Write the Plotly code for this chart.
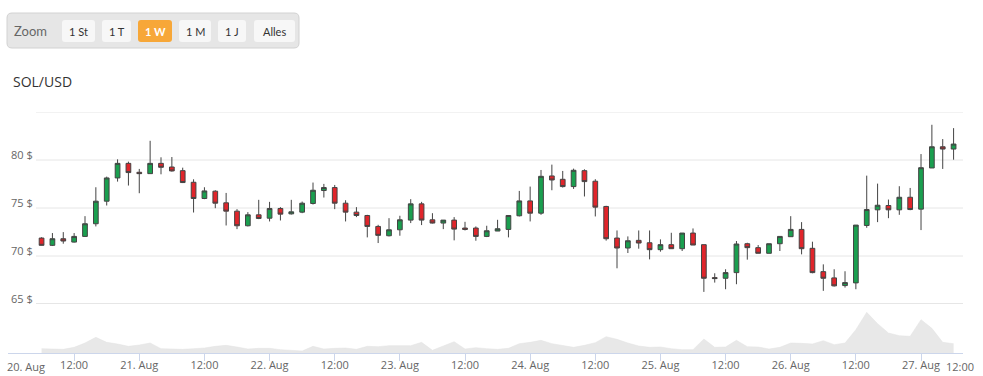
import plotly.graph_objects as go
import pandas as pd

# ---------------- data (2-hour candles, SOL/USD) ----------------
START = "2021-08-20 06:00"
OPEN = [71.87, 71.11, 71.80, 71.45, 72.04, 73.36, 75.71, 78.13, 79.65, 78.72,
        78.58, 79.65, 79.27, 78.89, 77.68, 75.99, 76.75, 75.54, 74.67, 73.15,
        74.29, 73.94, 74.95, 74.39, 74.57, 75.47, 76.82, 77.13, 75.50, 74.57,
        74.22, 73.08, 72.11, 72.73, 73.74, 75.43, 73.77, 73.43, 73.74, 72.91,
        72.91, 72.04, 72.60, 72.77, 74.19, 75.74, 74.46, 78.34, 77.99, 77.23,
        78.89, 77.79, 75.16, 71.87, 70.83, 71.63, 71.38, 70.66, 71.18, 70.76,
        72.39, 71.18, 67.75, 67.68, 68.27, 71.28, 70.87, 70.28, 71.28, 72.01,
        72.77, 70.80, 68.37, 67.72, 66.92, 67.20, 73.18, 74.81, 75.26, 74.81,
        76.12, 74.88, 79.17, 81.38, 81.14]
HIGH = [71.95, 72.39, 72.49, 72.39, 74.15, 77.16, 78.27, 80.07, 79.83, 79.07,
        82.00, 80.28, 80.31, 79.20, 77.99, 77.16, 76.85, 76.57, 74.88, 74.57,
        75.85, 75.64, 75.09, 75.85, 75.67, 77.65, 77.51, 77.40, 75.81, 75.09,
        74.29, 73.25, 73.94, 74.19, 75.92, 75.64, 74.46, 73.74, 74.05, 73.56,
        73.08, 73.15, 73.77, 74.22, 76.78, 77.23, 78.96, 79.52, 78.86, 79.10,
        79.03, 78.00, 75.23, 72.66, 72.04, 72.66, 72.66, 71.73, 72.42, 72.39,
        72.87, 71.18, 68.20, 68.62, 71.56, 71.38, 71.14, 71.28, 72.04, 74.15,
        73.53, 71.49, 69.13, 68.62, 68.41, 73.22, 78.37, 77.54, 75.88, 77.27,
        77.09, 80.62, 83.67, 82.18, 83.32]
LOW = [71.10, 71.04, 71.28, 71.40, 72.00, 73.08, 75.26, 77.75, 77.34, 76.54,
       78.58, 78.51, 78.79, 77.60, 74.53, 75.92, 74.98, 73.18, 72.80, 73.08,
       73.84, 73.60, 73.70, 74.32, 74.46, 75.36, 76.09, 74.88, 73.60, 74.05,
       71.94, 71.35, 72.04, 72.11, 73.43, 73.22, 73.39, 72.80, 71.63, 72.66,
       71.59, 71.97, 72.60, 71.94, 74.12, 73.60, 74.29, 76.85, 77.13, 76.99,
       76.20, 74.12, 71.60, 68.72, 70.31, 70.76, 69.65, 70.45, 70.76, 70.52,
       71.14, 66.26, 67.23, 66.54, 67.06, 69.62, 70.28, 70.28, 70.52, 72.01,
       70.17, 68.20, 66.37, 66.82, 66.71, 66.54, 72.94, 73.53, 73.94, 74.29,
       74.77, 72.70, 79.17, 79.07, 80.03]
CLOSE = [71.11, 71.80, 71.56, 72.04, 73.36, 75.71, 78.13, 79.65, 78.69, 78.58,
         79.65, 79.24, 78.86, 77.65, 75.99, 76.78, 75.50, 74.67, 73.15, 74.29,
         73.91, 74.95, 74.36, 74.60, 75.50, 76.85, 77.13, 75.50, 74.57, 74.22,
         73.08, 72.15, 72.73, 73.77, 75.43, 73.74, 73.43, 73.74, 72.80, 72.77,
         72.04, 72.63, 72.84, 74.22, 75.74, 74.46, 78.30, 77.92, 77.23, 78.93,
         77.75, 75.09, 71.80, 70.83, 71.59, 71.35, 70.66, 71.18, 70.76, 72.39,
         71.14, 67.68, 67.65, 68.27, 71.25, 70.87, 70.28, 71.28, 72.04, 72.77,
         70.76, 68.27, 67.68, 66.89, 67.23, 73.22, 74.84, 75.29, 74.81, 76.12,
         74.84, 79.20, 81.38, 81.14, 81.66]
VOLUME = [13, 11, 11, 17, 30, 47, 32, 27, 20, 24,
          30, 13, 11, 11, 13, 15, 20, 23, 18, 12,
          14, 14, 10, 9, 6, 20, 12, 14, 15, 11,
          20, 19, 22, 22, 22, 32, 8, 21, 34, 12,
          16, 13, 11, 14, 28, 32, 38, 28, 23, 17,
          23, 31, 49, 41, 30, 21, 17, 18, 13, 10,
          10, 42, 17, 18, 38, 19, 18, 12, 17, 30,
          29, 27, 37, 25, 30, 70, 122, 88, 60, 52,
          50, 100, 74, 32, 28]

TIMES = pd.date_range(START, periods=len(OPEN), freq="2h")

TICK_TIMES = ["2021-08-20 00:00", "2021-08-20 12:00", "2021-08-21 00:00", "2021-08-21 12:00",
              "2021-08-22 00:00", "2021-08-22 12:00", "2021-08-23 00:00", "2021-08-23 12:00",
              "2021-08-24 00:00", "2021-08-24 12:00", "2021-08-25 00:00", "2021-08-25 12:00",
              "2021-08-26 00:00", "2021-08-26 12:00", "2021-08-27 00:00"]
TICK_LABELS = ["", "12:00", "21. Aug", "12:00", "22. Aug", "12:00", "23. Aug", "12:00",
               "24. Aug", "12:00", "25. Aug", "12:00", "26. Aug", "12:00", "27. Aug"]
FIRST_LABEL = "20. Aug"
LAST_LABEL = "12:00"

PRICE_TICKS = [65, 70, 75, 80]
PRICE_LABELS = ["65 $", "70 $", "75 $", "80 $"]
PRICE_GRID = [65, 70, 75, 80, 85]

ZOOM_BUTTONS = ["1 St", "1 T", "1 W", "1 M", "1 J", "Alles"]
SELECTED = "1 W"

# ---------------- layout geometry (pixels) ----------------
W, H = 983, 376
PL, PR, PT, PB = 8, 963, 112, 353
VOL_TOP = 304
XLABEL_Y = 366
PRICE_MIN, PRICE_MAX = 65, 85


def pxx(x):
    return (x - PL) / (PR - PL)


def pxy(y):
    return (PB - y) / (PB - PT)


def rounded(x0, y0, x1, y1, r):
    X0, X1 = pxx(x0), pxx(x1)
    Y0, Y1 = pxy(y0), pxy(y1)
    rx = r / (PR - PL)
    ry = r / (PB - PT)
    return (f"M{X0+rx},{Y0} L{X1-rx},{Y0} Q{X1},{Y0} {X1},{Y0-ry} "
            f"L{X1},{Y1+ry} Q{X1},{Y1} {X1-rx},{Y1} L{X0+rx},{Y1} "
            f"Q{X0},{Y1} {X0},{Y1+ry} L{X0},{Y0-ry} Q{X0},{Y0} {X0+rx},{Y0} Z")


fig = go.Figure()

fig.add_trace(go.Candlestick(
    x=TIMES, open=OPEN, high=HIGH, low=LOW, close=CLOSE,
    increasing=dict(fillcolor="#1a9f4f", line=dict(color="#444444", width=1)),
    decreasing=dict(fillcolor="#e0252b", line=dict(color="#444444", width=1)),
    whiskerwidth=0, showlegend=False, hoverinfo="x+y",
    xaxis="x", yaxis="y",
))

fig.add_trace(go.Scatter(
    x=TIMES, y=VOLUME, mode="lines", fill="tozeroy",
    line=dict(color="#e2e2e2", width=0.5), fillcolor="#e8e8e8",
    showlegend=False, xaxis="x", yaxis="y2", hoverinfo="skip",
))

shapes = []
for v in PRICE_GRID:
    shapes.append(dict(type="line", xref="x domain", yref="y",
                       x0=(36 - PL) / (PR - PL), x1=1, y0=v, y1=v,
                       line=dict(color="#e6e6e6", width=2 if v == PRICE_GRID[0] else 1),
                       layer="below"))

# zoom toolbar
shapes.append(dict(type="path", xref="paper", yref="paper",
                   path=rounded(7, 13, 299, 48, 5),
                   fillcolor="#e6e6e6", line=dict(color="#d2d2d2", width=1)))
BTN_X = [(62, 95), (102, 131), (138, 172), (179, 211), (218, 246), (254, 295)]
annotations = []
for (bx0, bx1), label in zip(BTN_X, ZOOM_BUTTONS):
    sel = label == SELECTED
    shapes.append(dict(type="path", xref="paper", yref="paper",
                       path=rounded(bx0, 20, bx1, 42, 3),
                       fillcolor="#f7a738" if sel else "#f7f7f7",
                       line=dict(width=0)))
    annotations.append(dict(xref="paper", yref="paper", x=pxx((bx0 + bx1) / 2), y=pxy(31),
                            text=f"<b>{label}</b>" if sel else label, showarrow=False,
                            xanchor="center", yanchor="middle",
                            font=dict(family="Lato, Open Sans, sans-serif", size=11,
                                      color="#ffffff" if sel else "#333333")))
annotations.append(dict(xref="paper", yref="paper", x=pxx(12), y=pxy(31), text="Zoom",
                        showarrow=False, xanchor="left", yanchor="middle",
                        font=dict(family="Lato, Open Sans, sans-serif", size=13, color="#666666")))
annotations.append(dict(xref="paper", yref="paper", x=pxx(11), y=pxy(81), text="SOL/USD",
                        showarrow=False, xanchor="left", yanchor="middle",
                        font=dict(family="Open Sans, sans-serif", size=14, color="#333333")))
annotations.append(dict(xref="paper", yref="paper", x=pxx(26), y=pxy(XLABEL_Y), text=FIRST_LABEL,
                        showarrow=False, xanchor="center", yanchor="middle",
                        font=dict(family="Open Sans, sans-serif", size=11, color="#666666")))
annotations.append(dict(xref="paper", yref="paper", x=pxx(960), y=pxy(XLABEL_Y), text=LAST_LABEL,
                        showarrow=False, xanchor="center", yanchor="middle",
                        font=dict(family="Open Sans, sans-serif", size=11, color="#666666")))

vol_frac = (PB - VOL_TOP) / (PB - PT)
# price axis spans the whole plot height; its lower part (below 65) is the volume pane
price_low = PRICE_MAX - (PRICE_MAX - PRICE_MIN) * (PB - PT) / (VOL_TOP - PT)
x_start = pd.Timestamp("2021-08-20 00:00") - pd.Timedelta(minutes=11)
x_end = pd.Timestamp("2021-08-27 07:44")

fig.update_layout(
    width=W, height=H, autosize=False,
    margin=dict(l=PL, r=W - PR, t=PT, b=H - PB, pad=0),
    paper_bgcolor="#ffffff", plot_bgcolor="#ffffff",
    boxgap=0.38,
    font=dict(family="Open Sans, sans-serif", color="#666666"),
    xaxis=dict(type="date", range=[x_start, x_end], anchor="y2", automargin=False,
               rangeslider=dict(visible=False),
               showline=True, linecolor="#ccd6eb", linewidth=1,
               ticks="outside", ticklen=7, tickcolor="#ccd6eb",
               ticklabelstandoff=-5,
               tickvals=TICK_TIMES, ticktext=TICK_LABELS,
               tickfont=dict(size=11, color="#666666"),
               showgrid=False, zeroline=False),
    yaxis=dict(domain=[0, 1], range=[price_low, PRICE_MAX], automargin=False,
               tickvals=PRICE_TICKS, ticktext=PRICE_LABELS,
               ticklabelposition="inside top", ticklabelshift=3,
               tickfont=dict(size=11, color="#666666"),
               showgrid=False, zeroline=False, showline=False, ticks=""),
    yaxis2=dict(domain=[0, vol_frac], range=[0, 147], automargin=False,
                showticklabels=False, showgrid=False, zeroline=False, showline=False),
    shapes=shapes,
    annotations=annotations,
    hovermode="closest",
)

fig.write_html("out.html", config={"displayModeBar": False},
               post_script="document.body.style.margin='0';")
